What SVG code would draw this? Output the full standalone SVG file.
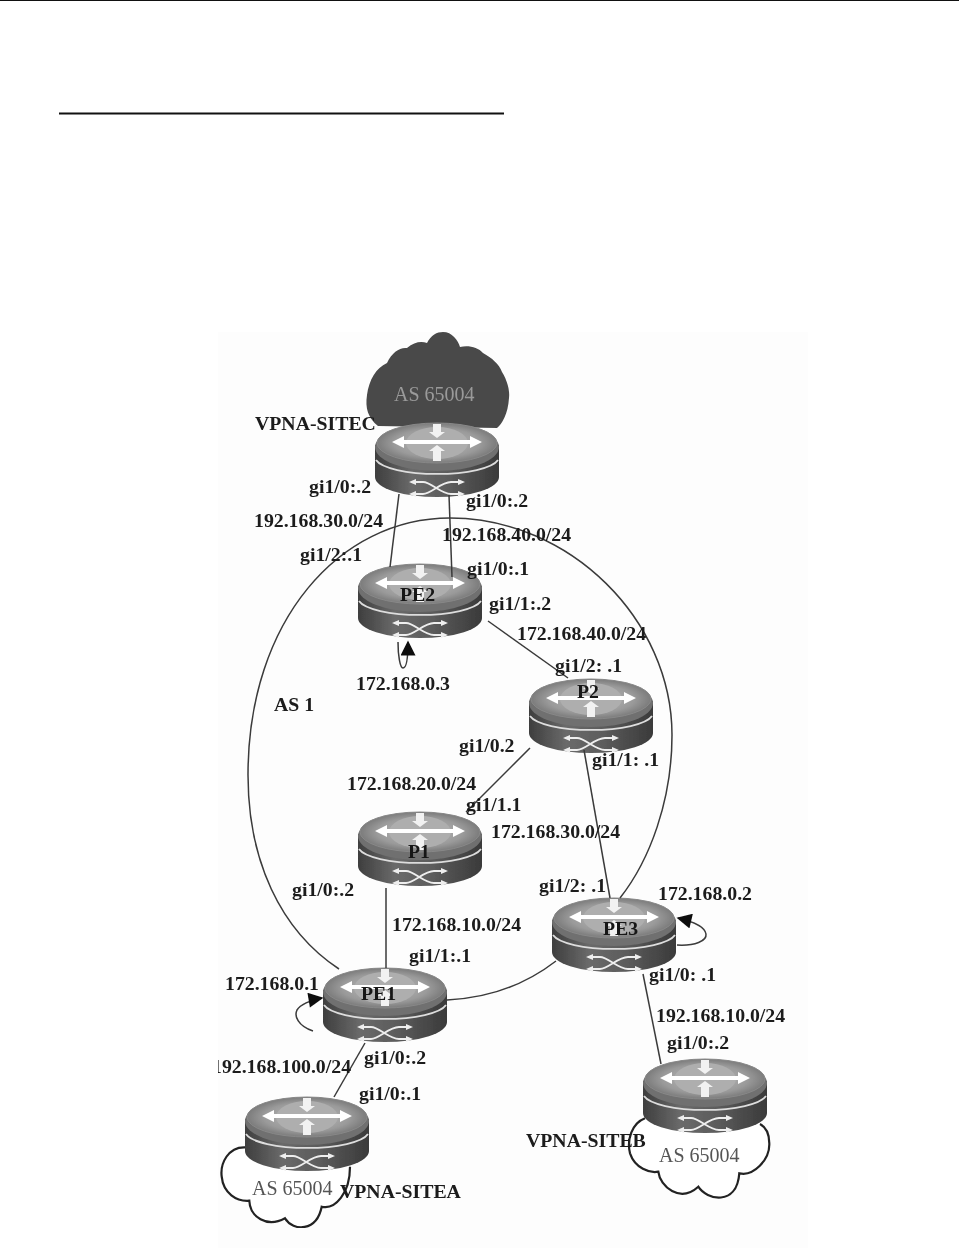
<svg xmlns="http://www.w3.org/2000/svg" width="959" height="1260" viewBox="0 0 959 1260">
<style>
text{font-family:"Liberation Serif","Times New Roman",serif}
.l{font-size:19.8px;font-weight:bold;fill:#1a1a1a}
.n{font-size:19.8px;font-weight:bold;fill:#161616}
.a{font-size:20px;fill:#555}
.c{fill:none;stroke:#3a3a3a;stroke-width:1.5}
.o{fill:#fff;stroke:#222;stroke-width:2.2}
.w{fill:none;stroke:#eee;stroke-width:1.8}
</style>
<defs>
<filter id="soft" x="0" y="0" width="1" height="1"><feGaussianBlur stdDeviation="0.6"/></filter>
<clipPath id="panel"><rect x="218" y="332" width="590" height="916"/></clipPath>
<linearGradient id="body" x1="0" x2="1" y1="0" y2="0"><stop offset="0" stop-color="#3e3e3e"/><stop offset=".3" stop-color="#6a6a6a"/><stop offset=".6" stop-color="#5c5c5c"/><stop offset="1" stop-color="#3a3a3a"/></linearGradient>
<radialGradient id="disc" cx=".5" cy=".5" r=".6"><stop offset="0" stop-color="#bdbdbd"/><stop offset=".6" stop-color="#9a9a9a"/><stop offset="1" stop-color="#666"/></radialGradient>
<marker id="ah" viewBox="0 0 10 10" refX="9" refY="5" markerWidth="17" markerHeight="15" markerUnits="userSpaceOnUse" orient="auto"><path d="M0 0L10 5L0 10Z" fill="#111"/></marker>
<g id="router">
<path d="M0 22V54A62 20 0 0 0 124 54V22Z" fill="url(#body)"/>
<ellipse cx="62" cy="24" rx="62" ry="24" fill="#707070"/>
<path d="M1 37A62 17 0 0 0 123 37" fill="none" stroke="#ddd" stroke-width="1.8"/>
<ellipse cx="62" cy="20" rx="60" ry="20" fill="url(#disc)" stroke="#888" stroke-width="1"/>
<ellipse cx="62" cy="20" rx="31" ry="16" fill="#aeaeae"/>
<path d="M17 19L29 13V17H95V13L107 19L95 25V21H29V25Z" fill="#fff"/>
<path d="M58 1H66V9H70L62 15L54 9H58Z" fill="#f2f2f2"/>
<path d="M62 22L70 28H66V38H58V28H54Z" fill="#f2f2f2"/>
<path class="w" d="M38 59H48C56 59 66 71 76 71H86M38 71H48C56 71 66 59 76 59H86"/>
<path d="M34 59L41 56V62ZM34 71L41 68V74ZM90 59L83 56V62ZM90 71L83 68V74Z" fill="#eee"/>
</g>
</defs>
<rect width="959" height="1260" fill="#fff"/>
<rect x="0" y="0" width="959" height="1" fill="#111"/>
<rect x="59" y="112.500" width="445" height="2" fill="#111"/>
<rect x="218" y="332" width="590" height="916" fill="#fdfdfd"/>
<g filter="url(#soft)" clip-path="url(#panel)">
<g id="cloud-c"><path d="M378 426C368 418 365 408 367 395C369 380 376 368 387 363C392 352 400 347 407 348C414 342 421 341 427 343C431 335 437 332 443 332C452 332 458 340 460 347C468 345 478 347 483 353C492 358 499 364 502 372C507 380 510 390 509 398C508 414 502 424 497 428Z" fill="#4a4a4a"/><text class="a" x="394" y="401" style="fill:#9a9a9a">AS 65004</text></g>
<g id="cloud-a"><path class="o" d="M245 1147.300C228.300 1146.700 220 1163.300 221.700 1176.700C223.300 1193.300 236.700 1201.700 249.300 1200.700C250 1216.700 266.700 1228.300 285 1218.300C293.300 1231.700 316.700 1231.700 321.700 1206.700C335 1210 350 1193.300 350 1166.700"/><text class="a" x="252" y="1195">AS 65004</text></g>
<g id="cloud-b"><path class="o" d="M645 1118.300C631.700 1123.300 626.700 1140 630 1153.300C635 1168.300 650 1173.300 658.300 1171.700C660 1186.700 680 1203.300 698.300 1186.700C706.700 1200 736.700 1206.700 739.300 1173.300C753.300 1176.700 770 1160 769.300 1143.300C769.300 1133.300 765 1126.700 760 1124"/><text class="a" x="659" y="1162">AS 65004</text></g>
<g id="vpna-sitec"><use href="#router" x="375" y="423"/></g>
<g id="pe2"><use href="#router" x="358" y="564"/><text class="n" x="400" y="601">PE2</text></g>
<g id="p2"><use href="#router" x="529" y="679"/><text class="n" x="577" y="698">P2</text></g>
<g id="p1"><use href="#router" x="358" y="812"/><text class="n" x="408" y="858">P1</text></g>
<g id="pe3"><use href="#router" x="552" y="898"/><text class="n" x="603" y="935">PE3</text></g>
<g id="pe1"><use href="#router" x="323" y="968"/><text class="n" x="361" y="1000">PE1</text></g>
<g id="vpna-sitea"><use href="#router" x="245" y="1097"/></g>
<g id="vpna-siteb"><use href="#router" x="643" y="1059"/></g>
<g id="connectors">
<path class="c" d="M339 969C280 930 248 860 248 775C248 620 340 518 450 518C570 518 672 620 672 735C672 800 650 860 620 898"/>
<path class="c" d="M447 1000C490 998 525 985 556 961"/>
<path class="c" d="M399 494L390 567"/>
<path class="c" d="M449 495L452 577"/>
<path class="c" d="M488 621L568 678"/>
<path class="c" d="M530 748L466 812"/>
<path class="c" d="M584 750L610 898"/>
<path class="c" d="M386 888V968"/>
<path class="c" d="M365 1043L334 1097"/>
<path class="c" d="M643 974L661 1064"/>
<path class="c" d="M398 642C398 655 400 668 403 668C407 668 408 656 408 642" marker-end="url(#ah)"/>
<path class="c" d="M313 1031C298 1026 294 1016 297 1010C300 1005 310 1000 322 998" marker-end="url(#ah)"/>
<path class="c" d="M677 945C695 946 707 941 706 934C705 928 695 922 678 918" marker-end="url(#ah)"/>
</g>
<g id="labels">
<text class="l" x="255" y="430">VPNA-SITEC</text>
<text class="l" x="309" y="493">gi1/0:.2</text>
<text class="l" x="466" y="507">gi1/0:.2</text>
<text class="l" x="254" y="527">192.168.30.0/24</text>
<text class="l" x="442" y="541">192.168.40.0/24</text>
<text class="l" x="300" y="561">gi1/2:.1</text>
<text class="l" x="467" y="575">gi1/0:.1</text>
<text class="l" x="489" y="610">gi1/1:.2</text>
<text class="l" x="517" y="640">172.168.40.0/24</text>
<text class="l" x="555" y="672">gi1/2: .1</text>
<text class="l" x="356" y="690">172.168.0.3</text>
<text class="l" x="274" y="711">AS 1</text>
<text class="l" x="459" y="752">gi1/0.2</text>
<text class="l" x="592" y="766">gi1/1: .1</text>
<text class="l" x="347" y="790">172.168.20.0/24</text>
<text class="l" x="466" y="811">gi1/1.1</text>
<text class="l" x="491" y="838">172.168.30.0/24</text>
<text class="l" x="292" y="896">gi1/0:.2</text>
<text class="l" x="539" y="892">gi1/2: .1</text>
<text class="l" x="658" y="900">172.168.0.2</text>
<text class="l" x="392" y="931">172.168.10.0/24</text>
<text class="l" x="409" y="962">gi1/1:.1</text>
<text class="l" x="649" y="981">gi1/0: .1</text>
<text class="l" x="225" y="990">172.168.0.1</text>
<text class="l" x="656" y="1022">192.168.10.0/24</text>
<text class="l" x="667" y="1049">gi1/0:.2</text>
<text class="l" x="364" y="1064">gi1/0:.2</text>
<text class="l" x="212" y="1073">192.168.100.0/24</text>
<text class="l" x="359" y="1100">gi1/0:.1</text>
<text class="l" x="526" y="1147">VPNA-SITEB</text>
<text class="l" x="340" y="1198">VPNA-SITEA</text>
</g>
</g>
</svg>
